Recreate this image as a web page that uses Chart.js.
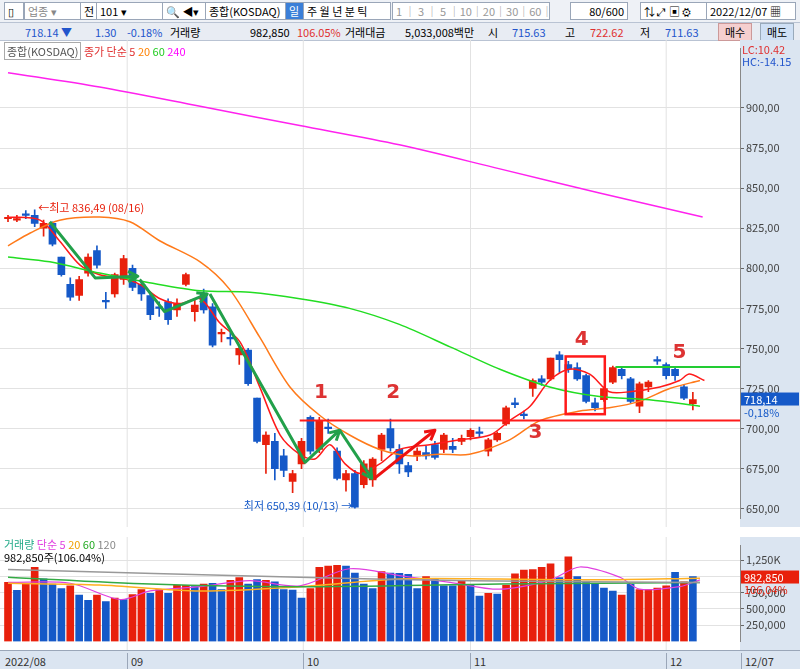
<!DOCTYPE html>
<html><head><meta charset="utf-8">
<script src="https://cdn.jsdelivr.net/npm/chart.js@4.4.0/dist/chart.umd.min.js"></script>
<style>
body{margin:0;width:800px;height:669px;overflow:hidden;background:#fff;font-family:"Noto Sans CJK KR","Noto Sans",sans-serif;font-size:11px;position:relative}
.bar{position:absolute;left:0;width:800px;background:#eef1f6;border-bottom:1px solid #b9c3d3}
.box{position:absolute;top:2px;height:16px;border:1px solid #9aa6b8;background:#fff;line-height:16px;padding:0 3px;box-sizing:content-box;white-space:nowrap;overflow:hidden}
#c1{position:absolute;left:0;top:40px}
#c2{position:absolute;left:0;top:537px}
.ax{position:absolute;left:0;top:650px;width:800px;height:19px;background:#dbe5f1;border-top:1px solid #9aa6b8}
.ax span{position:absolute;top:2px;color:#333;border-left:1px solid #9aa6b8;padding-left:3px}
.lg{position:absolute;white-space:nowrap}
</style></head><body>
<div class="bar" style="top:0;height:22px">
 <div class="box" style="left:4px;width:12px">▯</div>
 <div class="box" style="left:24px;width:50px;color:#888">업종 ▾</div>
 <div class="box" style="left:80px;width:12px">전</div>
 <div class="box" style="left:96px;width:60px">101 ▾</div>
 <div class="box" style="left:162px;width:36px">🔍 ◀▾</div>
 <div class="box" style="left:205px;width:74px">종합(KOSDAQ)</div>
 <div class="box" style="left:285px;width:12px;background:#3b7fd8;color:#fff">일</div>
 <div class="box" style="left:303px;width:80px">주 월 년 분 틱</div>
 <div class="box" style="left:392px;width:150px;color:#999">1 │ 3 │ 5 │10│20│30│60│120</div>
 <div class="box" style="left:570px;width:50px;text-align:right">80/600</div>
 <div class="box" style="left:640px;width:60px">⇅ ⤢ ▣ ⚙</div>
 <div class="box" style="left:706px;width:82px">2022/12/07 ▦</div>
</div>
<div class="bar" style="top:23px;height:17px;background:#e8ecf3">
 <span class="lg" style="left:25px;top:1px;color:#2255cc">718.14 ▼</span>
 <span class="lg" style="left:95px;top:1px;color:#2255cc">1.30</span>
 <span class="lg" style="left:127px;top:1px;color:#2255cc">-0.18%</span>
 <span class="lg" style="left:170px;top:1px">거래량</span>
 <span class="lg" style="left:250px;top:1px">982,850</span>
 <span class="lg" style="left:297px;top:1px;color:#e03030">106.05%</span>
 <span class="lg" style="left:345px;top:1px">거래대금</span>
 <span class="lg" style="left:405px;top:1px">5,033,008백만</span>
 <span class="lg" style="left:488px;top:1px">시</span>
 <span class="lg" style="left:512px;top:1px;color:#2255cc">715.63</span>
 <span class="lg" style="left:565px;top:1px">고</span>
 <span class="lg" style="left:590px;top:1px;color:#e03030">722.62</span>
 <span class="lg" style="left:640px;top:1px">저</span>
 <span class="lg" style="left:665px;top:1px;color:#2255cc">711.63</span>
 <span class="lg" style="left:718px;top:0;background:#f5cfcf;padding:0 6px;border:1px solid #c99">매수</span>
 <span class="lg" style="left:760px;top:0;background:#cfe0f5;padding:0 6px;border:1px solid #9ab">매도</span>
</div>
<canvas id="c1" width="800" height="487"></canvas>
<canvas id="c2" width="800" height="113"></canvas>
<div class="ax"><span style="left:2px;border:0">2022/08</span><span style="left:127px">09</span><span style="left:303px">10</span><span style="left:470px">11</span><span style="left:666px">12</span><span style="left:741px">12/07</span></div>
<div class="lg" style="left:4px;top:43px;z-index:2"><span style="border:1px solid #aaa;padding:0 2px;color:#555">종합(KOSDAQ)</span> <span style="color:#e03030">종가 단순 5</span> <span style="color:#ff8000">20</span> <span style="color:#22cc22">60</span> <span style="color:#ff00ff">240</span></div>
<div class="lg" style="left:742px;top:43px;color:#e03030;z-index:2;line-height:12px;background:#dbe5f1;width:58px">LC:10.42<br><span style="color:#2255cc">HC:-14.15</span></div>
<div class="lg" style="left:4px;top:538px;z-index:2;line-height:13px"><span style="color:#2a8">거래량</span> <span style="color:#e040e0">단순 5</span> <span style="color:#f0a000">20</span> <span style="color:#22aa22">60</span> <span style="color:#888">120</span><br>982,850주(106.04%)</div>
<script>
const opens  = [831,830,834,833,825,828,807,790,783,797,811,780,784,793,800,790,783,776,779,774,790,773,784,776,759,757,746,749,719,690,692,683,667,678,707,687,701,686,668,672,665,668,687,700,687,677,683,685,690,687,689,692,695,698,686,693,703,716,709,725,731,731,746,740,738,733,716,718,729,737,731,714,726,743,740,737,726,715.63];
const closes = [831,831,833,828,828,815,796,782,793,807,802,779,796,806,788,784,771,775,768,778,796,777,774,752,760,756,750,728,692,696,675,674,672,692,686,705,700,669,672,651,678,681,696,688,678,673,686,683,682,696,687,694,699,697,693,697,713,715,708,730,729,744,743,737,731,717,713,725,738,733,717,728,729,742,733,733,719,718.14];
const highs  = [833,833,836,836.49,830,829,807,794,795,809,814,785,797,808,802,792,785,779,781,781,797,781,787,778,762,761,752,750,719,698,697,687,674,694,708,707,706,688,674,674,680,682,697,706,690,679,688,689,692,697,694,696,700,701,694,698,714,719,711,731,733,744,748,742,741,734,719,726,739,738,732,729,730,745,741,738,727,722.62];
const lows   = [829,829,831,826,820,814,795,780,780,795,800,775,782,790,786,780,768,770,765,770,789,767,772,751,754,752,740,727,691,672,668,670,660,675,684,685,697,668,661,650.39,663,664,680,686,672,670,680,681,681,685,685,690,693,695,683,692,702,713,706,720,727,730,735,735,730,716,711,717,728,731,716,710,723,740,731,730,718,711.63];
const volumes = [908,785,882,1140,961,882,811,855,711,632,711,614,667,645,719,798,741,798,741,864,864,842,882,895,798,938,982,882,952,938,917,798,790,667,811,1140,1158,1171,1158,1053,882,811,1075,1053,1048,1031,811,996,961,855,855,930,873,697,741,728,864,1039,1096,1105,1140,1193,982,1303,996,930,895,820,776,711,877,798,798,820,855,1061,917,996];
const volColors = "rbrrbbbrbbrbrbrrbrbrrbrbbrrbbrbbbbrrrrbbbbrbbbbrbbbrbbrbrrrrrrbrbbbbbrbrrrrbr";
const ma5   = [[0,832],[3.6,830],[5.8,817],[8.1,802],[10.3,796],[12.6,794],[14.8,790],[17.1,781],[19.3,778],[21.6,781],[23.8,766],[26.1,754],[28.3,726],[30.6,696],[32.8,684],[34.5,681],[36.2,690],[37.9,678],[39.6,672],[41.8,678],[44.0,687],[47.4,690],[50.8,693],[54.2,696],[56.4,705],[58.7,714],[60.9,730],[63.1,737],[65.4,734],[67.6,723],[69.9,723],[73.3,726],[75.5,730],[76.6,734],[78.3,730]];
const ma20  = [[0,814],[2.5,822],[5.8,830],[10.3,832],[13.7,829],[17.1,817],[21.6,804],[24.9,787],[28.3,757],[31.7,726],[35.1,708],[38.4,696],[41.8,687],[45.2,683],[48.5,684],[51.9,684],[56.4,693],[59.8,705],[64.3,711],[67.6,713],[71.0,717],[74.4,725],[77.8,730]];
const ma60  = [[0,807],[4.7,804],[10.3,797],[15.9,791],[21.6,786],[27.2,785],[32.8,781],[38.4,775],[44.0,765],[49.7,751],[55.3,737],[60.9,726],[66.5,720],[72.1,718],[77.8,714]];
const ma240 = [[0,922],[10.3,913],[21.6,901],[32.8,889],[44.0,877],[55.3,862],[66.5,847],[78.1,832]];
const vma5   = [[0,908],[7,895],[12.6,645],[16,776],[21.6,842],[27.2,934],[32.8,855],[38.4,1118],[44,1013],[49.7,908],[55.3,803],[61,947],[64.3,1145],[68.8,987],[71,803],[75.5,842],[77.8,947]];
const vma20  = [[0,895],[10.3,868],[21.6,776],[32.8,842],[44,960],[55.3,960],[66.5,947],[77.8,973]];
const vma60  = [[0,987],[16,882],[32.8,842],[55.3,882],[77.8,908]];
const vma120 = [[0,1105],[32.8,987],[52,934],[77.8,908]];
const priceTicks = [650,675,700,725,750,775,800,825,850,875,900];
const volTicks = [250,500,750,1000,1250];
const greenArrows = [[[4.7,829],[9.8,794],[14.6,795]],[[14.8,793],[17.6,773],[22.4,784]],[[22.7,784],[33.4,679],[37.3,699]],[[37.3,699],[40.9,669]]];
const redArrow = [[41.2,669],[48,699]];

const idx = closes.map((_, i) => i);
const RED = '#e8200c', BLUE = '#1559c8';
const col = i => closes[i] >= opens[i] ? RED : BLUE;
const xs = {type:'linear', min:-0.9, max:82.3, offset:false, display:false};
const lineDs = (d, c, w) => ({type:'line', data:d.map(p => ({x:p[0], y:p[1]})), borderColor:c, borderWidth:w||1.2, pointRadius:0, tension:0.3, order:0});
const rightAxis = (min, max, ticks, fmt) => ({position:'right', min, max, afterFit(a){a.width = 60;},
  afterBuildTicks(a){a.ticks = ticks.map(v => ({value:v}));},
  ticks:{color:'#444', font:{size:11, family:'Noto Sans CJK KR'}, callback:fmt, padding:2},
  grid:{color:'#e2e2e2', drawTicks:true, tickColor:'#666', tickLength:4}, border:{color:'#888'}});
const monthLines = [13.4, 33.2, 52, 74];

const bg = {id:'bg', beforeDraw(c){const g=c.ctx, a=c.chartArea; g.save(); g.fillStyle='#dbe5f1'; g.fillRect(a.right,0,c.width-a.right,c.height);
  g.strokeStyle='#e2e2e2'; monthLines.forEach(m=>{const x=c.scales.x.getPixelForValue(m); g.beginPath(); g.moveTo(x,0); g.lineTo(x,c.height); g.stroke();}); g.restore();}};

function arrow(g, pts, color, sx, sy){
  g.strokeStyle=color; g.fillStyle=color; g.lineWidth=3; g.lineJoin='round';
  g.beginPath(); pts.forEach((p,k)=>{const X=sx(p[0]),Y=sy(p[1]); k?g.lineTo(X,Y):g.moveTo(X,Y);}); g.stroke();
  const a=pts[pts.length-2], b=pts[pts.length-1], x1=sx(a[0]), y1=sy(a[1]), x2=sx(b[0]), y2=sy(b[1]);
  const ang=Math.atan2(y2-y1,x2-x1);
  g.beginPath(); g.moveTo(x2-11*Math.cos(ang-0.5), y2-11*Math.sin(ang-0.5)); g.lineTo(x2,y2); g.lineTo(x2-11*Math.cos(ang+0.5), y2-11*Math.sin(ang+0.5)); g.stroke();
}
const marks = {id:'marks', afterDatasetsDraw(c){
  const g=c.ctx, a=c.chartArea, sx=v=>c.scales.x.getPixelForValue(v), sy=v=>c.scales.y.getPixelForValue(v);
  g.save();
  g.lineWidth=2; g.strokeStyle='#ff1a1a'; g.beginPath(); g.moveTo(sx(32.8),sy(705)); g.lineTo(a.right,sy(705)); g.stroke();
  g.strokeStyle='#22cc33'; g.beginPath(); g.moveTo(sx(68.3),sy(738.5)); g.lineTo(a.right,sy(738.5)); g.stroke();
  g.strokeStyle='#ff1a1a'; g.lineWidth=2.5; g.strokeRect(sx(62.7),sy(745),sx(67.1)-sx(62.7),sy(709)-sy(745));
  greenArrows.forEach(p=>arrow(g,p,'#22a04a',sx,sy)); arrow(g,redArrow,'#ee1111',sx,sy);
  g.font='bold 20px "DejaVu Sans"'; g.fillStyle='#dd3333'; g.textAlign='center';
  [['1',35.2,719],['2',43.3,719],['3',59.3,694],['4',64.5,752],['5',75.5,744]].forEach(t=>g.fillText(t[0],sx(t[1]),sy(t[2])));
  g.font='11px "Noto Sans CJK KR"'; g.textAlign='left'; g.fillStyle=RED; g.fillText('←최고 836,49 (08/16)',sx(3.4),sy(835));
  g.fillStyle=BLUE; g.textAlign='right'; g.fillText('최저 650,39 (10/13) →',sx(38.7),sy(649));
  const y=sy(718.14); g.fillStyle=BLUE; g.fillRect(a.right+1,y-7,58,13); g.fillStyle='#fff'; g.textAlign='left'; g.fillText('718,14',a.right+4,y+4);
  g.fillStyle=BLUE; g.fillText('-0,18%',a.right+4,y+17);
  g.restore();}};

new Chart(document.getElementById('c1'), {
  data:{datasets:[
    lineDs(ma240,'#ff22ee',1.5), lineDs(ma60,'#22dd22',1.5), lineDs(ma20,'#ff7a1a',1.5), lineDs(ma5,'#ff1a1a',1.5),
    {type:'bar', data:idx.map(i=>({x:i, y:[lows[i],highs[i]]})), backgroundColor:idx.map(col), barThickness:1, grouped:false, order:2},
    {type:'bar', data:idx.map(i=>({x:i, y:[opens[i], Math.abs(closes[i]-opens[i])<0.8 ? closes[i]+(closes[i]>=opens[i]?0.8:-0.8) : closes[i]]})), backgroundColor:idx.map(col), barThickness:7, grouped:false, order:1}
  ]},
  options:{animation:false, responsive:false, maintainAspectRatio:false, layout:{padding:0},
    plugins:{legend:{display:false}, tooltip:{enabled:false}},
    scales:{x:xs, y:rightAxis(644,937,priceTicks,v=>v.toFixed(2).replace('.',','))}},
  plugins:[bg, marks]
});

const volTag = {id:'volTag', afterDatasetsDraw(c){const g=c.ctx,a=c.chartArea,y=c.scales.y.getPixelForValue(982.85);
  g.save(); g.fillStyle=RED; g.fillRect(a.right+1,y-7,58,13); g.fillStyle='#fff'; g.font='11px "Noto Sans CJK KR"'; g.fillText('982,850',a.right+4,y+4);
  g.fillStyle=RED; g.fillText('106,04%',a.right+4,y+16); g.restore();}};
new Chart(document.getElementById('c2'), {
  data:{datasets:[
    lineDs(vma120,'#999',1.5), lineDs(vma60,'#33aa44',1.5), lineDs(vma20,'#ffb020',1.5), lineDs(vma5,'#e040e0',1.2),
    {type:'bar', data:idx.map(i=>({x:i, y:volumes[i]})), backgroundColor:idx.map(i=>volColors[i]==='r'?RED:BLUE), barThickness:7, order:1}
  ]},
  options:{animation:false, responsive:false, maintainAspectRatio:false, layout:{padding:0},
    plugins:{legend:{display:false}, tooltip:{enabled:false}},
    scales:{x:xs, y:rightAxis(0,1474,volTicks,v=>v===1250?'1,250K':(v*1000).toLocaleString('en-US'))}},
  plugins:[bg, volTag]
});
</script>
</body></html>
